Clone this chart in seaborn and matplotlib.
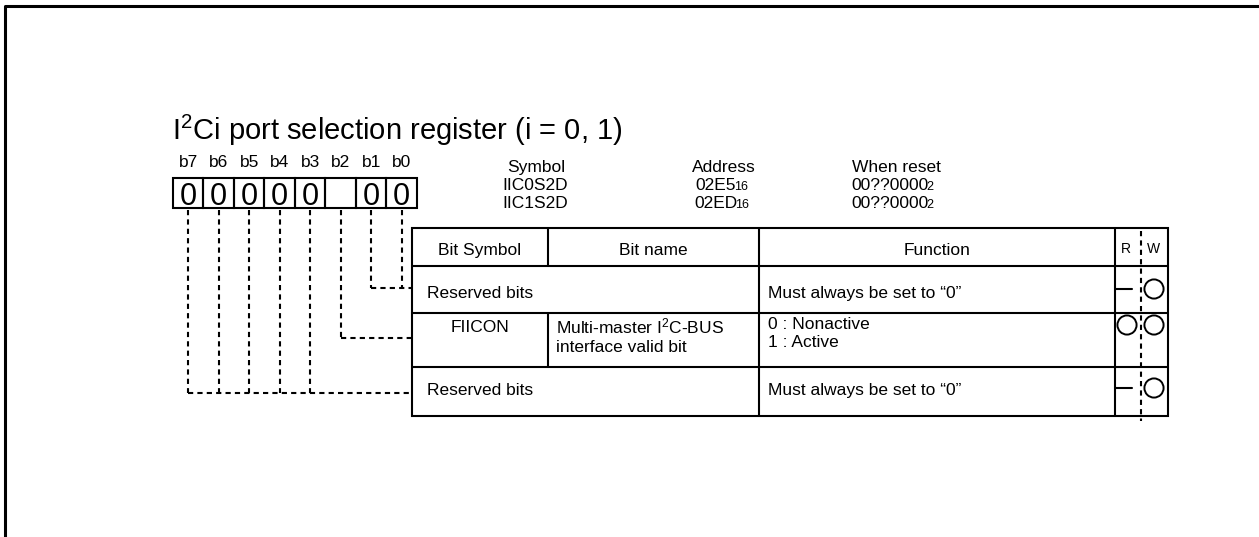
import matplotlib
matplotlib.use("Agg")
import matplotlib.pyplot as plt
import seaborn as sns
from matplotlib.patches import Rectangle

# register data
title = r"I$\mathregular{^2}$Ci port selection register (i = 0, 1)"
bit_labels = ["b7", "b6", "b5", "b4", "b3", "b2", "b1", "b0"]
bit_values = ["0", "0", "0", "0", "0", "", "0", "0"]

symbols = ["IIC0S2D", "IIC1S2D"]
addresses = ["02E5", "02ED"]
resets = ["00??0000", "00??0000"]

header = ["Bit Symbol", "Bit name", "Function"]
row_bits = [["b1", "b0"], ["b2"], ["b7", "b6", "b5", "b4", "b3"]]
row_symbol = ["Reserved bits", "FIICON", "Reserved bits"]
row_name = ["", "Multi-master I$\\mathregular{^2}$C-BUS\ninterface valid bit", ""]
row_function = ["Must always be set to \u201c0\u201d", "0 : Nonactive\n1 : Active",
                "Must always be set to \u201c0\u201d"]
row_read = ["-", "o", "-"]
row_write = ["o", "o", "o"]

sns.set_style("white")
plt.rcParams["font.family"] = ["Liberation Sans", "DejaVu Sans"]
plt.rcParams["text.color"] = "black"
plt.rcParams["mathtext.fontset"] = "custom"
plt.rcParams["mathtext.rm"] = "Liberation Sans"

fig = plt.figure(figsize=(12.59, 5.37), dpi=100)
ax = fig.add_axes([0, 0, 1, 1])
ax.set_xlim(0, 1259)
ax.set_ylim(537, 0)
ax.axis("off")

# page frame (left and top edges only visible)
ax.plot([5, 5, 1259], [537, 6, 6], color="black", lw=2.2, solid_capstyle="butt")

ax.text(172, 140, title, fontsize=21, va="baseline")

# bit boxes
bx0, bw, btop, bbot = 173, 30.5, 178, 208
centers = {}
for i, (lab, val) in enumerate(zip(bit_labels, bit_values)):
    cx = bx0 + (i + 0.5) * bw
    centers[lab] = cx
    ax.add_patch(Rectangle((bx0 + i * bw, btop), bw, bbot - btop, fill=False, lw=1.5, ec="black"))
    ax.text(cx, 167, lab, fontsize=12.5, ha="center", va="baseline")
    ax.text(cx, 205, val, fontsize=22, ha="center", va="baseline")

# symbol / address / reset block
def sub_text(x, y, main, small, fs=12.5):
    t = ax.text(x, y, main, fontsize=fs, ha="center", va="baseline")
    ax.annotate(small, xy=(1, 0), xycoords=t, xytext=(-1.5, 0), textcoords="offset points",
                fontsize=fs * 0.72, ha="left", va="bottom")

ax.text(536, 172, "Symbol", fontsize=12.5, ha="center", va="baseline")
ax.text(724, 172, "Address", fontsize=12.5, ha="center", va="baseline")
ax.text(896, 172, "When reset", fontsize=12.5, ha="center", va="baseline")
for k in range(2):
    yb = 190 + k * 18
    ax.text(535, yb, symbols[k], fontsize=12.5, ha="center", va="baseline")
    sub_text(716, yb, addresses[k], "16")
    sub_text(890, yb, resets[k], "2")

# table grid
cols = [412, 548, 759, 1115, 1141, 1168]
rows = [228, 266, 313, 367, 416]
lw = 1.5
dash = (0, (2.5, 2.0))
ax.add_patch(Rectangle((cols[0], rows[0]), cols[-1] - cols[0], rows[-1] - rows[0],
                       fill=False, lw=lw, ec="black"))
for y in rows[1:-1]:
    ax.plot([cols[0], cols[-1]], [y, y], color="black", lw=lw)
for x in (cols[2], cols[3]):
    ax.plot([x, x], [rows[0], rows[-1]], color="black", lw=lw)
ax.plot([cols[1], cols[1]], [rows[0], rows[1]], color="black", lw=lw)
ax.plot([cols[1], cols[1]], [rows[2], rows[3]], color="black", lw=lw)
ax.plot([cols[4], cols[4]], [231, 421], color="black", lw=1.5, ls=dash)

# header
ax.text((cols[0] + cols[1]) / 2, 255, header[0], fontsize=12.5, ha="center", va="baseline")
ax.text((cols[1] + cols[2]) / 2, 255, header[1], fontsize=12.5, ha="center", va="baseline")
ax.text((cols[2] + cols[3]) / 2, 255, header[2], fontsize=12.5, ha="center", va="baseline")
ax.text(1126, 253, "R", fontsize=10, ha="center", va="baseline")
ax.text(1154, 253, "W", fontsize=10, ha="center", va="baseline")

# rows
base = [298, 332, 395]
mark_y = [289, 325, 388]
for r in range(3):
    yb = base[r]
    if row_name[r]:
        ax.text((cols[0] + cols[1]) / 2, yb, row_symbol[r], fontsize=12.5, ha="center", va="baseline")
        ax.text(556, yb - 15, row_name[r], fontsize=12.5, ha="left", va="top", linespacing=1.25)
    else:
        ax.text(427, yb, row_symbol[r], fontsize=12.5, ha="left", va="baseline")
    if "\n" in row_function[r]:
        ax.text(768, yb - 15, row_function[r], fontsize=12.5, ha="left", va="top", linespacing=1.25)
    else:
        ax.text(768, yb, row_function[r], fontsize=12.5, ha="left", va="baseline")
    for x, m in ((1127, row_read[r]), (1154, row_write[r])):
        if m == "o":
            ax.scatter([x], [mark_y[r]], s=190, marker="o", facecolors="none",
                       edgecolors="black", linewidths=1.4, zorder=3)
        else:
            ax.plot([x - 11, x + 5], [mark_y[r], mark_y[r]], color="black", lw=1.5)

    # dashed connectors from the bit cells
    xs = [centers[b] for b in row_bits[r]]
    yj = mark_y[r] - 1 if r == 0 else (338 if r == 1 else 393)
    for x in xs:
        ax.plot([x, x], [210, yj], color="black", lw=1.5, ls=dash)
    ax.plot([min(xs), cols[0]], [yj, yj], color="black", lw=1.5, ls=dash)

fig.savefig("out.png", dpi=100)
